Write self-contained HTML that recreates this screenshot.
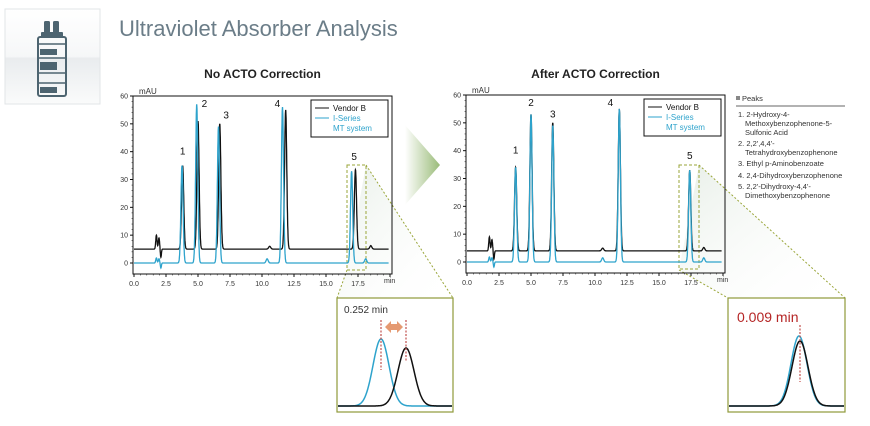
<!DOCTYPE html><html><head><style>
body{margin:0;width:870px;height:421px;background:#fff;overflow:hidden;font-family:"Liberation Sans",sans-serif}
</style></head><body>
<svg id="s" width="870" height="421" xmlns="http://www.w3.org/2000/svg" font-family="Liberation Sans, sans-serif">
<defs>
<linearGradient id="ib" x1="0" y1="0" x2="0" y2="1"><stop offset="0" stop-color="#fff"/><stop offset="0.5" stop-color="#f6f7f8"/><stop offset="0.52" stop-color="#e9ecee"/><stop offset="1" stop-color="#fafbfb"/></linearGradient>
<linearGradient id="ar" x1="0" y1="0" x2="1" y2="0"><stop offset="0" stop-color="#fff"/><stop offset="1" stop-color="#8fb46a"/></linearGradient>
<linearGradient id="fz" x1="0" y1="0" x2="1" y2="1"><stop offset="0" stop-color="#e8efe8"/><stop offset="1" stop-color="#fff" stop-opacity="0"/></linearGradient>
</defs>
<rect x="5" y="9" width="95" height="95" fill="url(#ib)" stroke="#e2e5e7"/>
<g fill="#4d6470">
<rect x="44" y="21" width="6" height="12" rx="1.5"/><rect x="53" y="21" width="6" height="12" rx="1.5"/>
<rect x="41" y="32" width="22" height="5" rx="1"/>
<rect x="38" y="37" width="28" height="59" rx="2" fill="none" stroke="#4d6470" stroke-width="2"/>
<rect x="40" y="49" width="17" height="6"/><rect x="40" y="62" width="17" height="8"/><rect x="40" y="87" width="17" height="6"/>
</g>
<line x1="38" y1="44" x2="66" y2="44" stroke="#4d6470" stroke-width="1.5"/>
<line x1="38" y1="58" x2="66" y2="58" stroke="#4d6470" stroke-width="1.5"/>
<line x1="38" y1="73" x2="66" y2="73" stroke="#4d6470" stroke-width="1.5"/>
<line x1="38" y1="83" x2="66" y2="83" stroke="#4d6470" stroke-width="1.5"/>
<text x="119" y="36" font-size="22" fill="#6b7d88">Ultraviolet Absorber Analysis</text>
<polygon points="405,125 440,165 405,205" fill="url(#ar)" opacity="0.9"/>
<polygon points="366,165 453,298 337,298 347,270" fill="url(#fz)"/>
<polygon points="699,165 845,298 728,298 679,270" fill="url(#fz)"/>
<g stroke="#9aa63a" stroke-dasharray="2,2" stroke-width="1" fill="none">
<line x1="366" y1="165" x2="453" y2="298"/><line x1="347" y1="270" x2="337" y2="298"/>
<line x1="699" y1="165" x2="845" y2="298"/><line x1="679" y1="270" x2="728" y2="298"/>
<rect x="347" y="165" width="19" height="105" stroke-dasharray="3,2"/>
<rect x="679" y="165" width="20" height="104" stroke-dasharray="3,2"/>
</g>
<g id="c1"></g><g id="c2"></g>
<rect x="337" y="298" width="116" height="114" fill="#fff" stroke="#8f9a3a" stroke-width="1.2"/>
<rect x="728" y="298" width="117" height="114" fill="#fff" stroke="#8f9a3a" stroke-width="1.2"/>
<g id="z"></g>
<text x="344" y="313" font-size="10" fill="#333">0.252 min</text>
<text x="737" y="322" font-size="14" fill="#b52525">0.009 min</text>
<g font-size="7.5" fill="#333">
<rect x="736" y="96" width="4" height="4" fill="#888"/><text x="742" y="101" font-size="7.5">Peaks</text>
<line x1="736" y1="106" x2="845" y2="106" stroke="#333" stroke-width="0.8"/>
<text x="738" y="117">1. 2-Hydroxy-4-</text><text x="745" y="126">Methoxybenzophenone-5-</text><text x="745" y="135">Sulfonic Acid</text>
<text x="738" y="146">2. 2,2',4,4'-</text><text x="745" y="155">Tetrahydroxybenzophenone</text>
<text x="738" y="166">3. Ethyl p-Aminobenzoate</text>
<text x="738" y="178">4. 2,4-Dihydroxybenzophenone</text>
<text x="738" y="189">5. 2,2'-Dihydroxy-4,4'-</text><text x="745" y="198">Dimethoxybenzophenone</text>
</g>
</svg>
<script>
const NS="http://www.w3.org/2000/svg";
function el(p,t,a,txt){const e=document.createElementNS(NS,t);for(const k in a)e.setAttribute(k,a[k]);if(txt!==undefined)e.textContent=txt;p.appendChild(e);return e;}
function chart(g,X0,Y0,title,blk,blu,bb,labels){
 const X1=X0+259,Ytop=Y0-167,Ybot=Y0+11,sx=12.8,sy=167/60;
 const px=t=>X0+1+t*sx, py=v=>Y0-v*sy;
 el(g,"text",{x:(X0+X1)/2,y:78,"font-size":12,"font-weight":"bold","text-anchor":"middle",fill:"#222"},title);
 el(g,"text",{x:X0+6,y:Ytop-2,"font-size":8,fill:"#333"},"mAU");
 el(g,"rect",{x:X0,y:Ytop,width:259,height:Ybot-Ytop,fill:"none",stroke:"#111","stroke-width":1});
 for(let v=0;v<=60;v+=10){el(g,"line",{x1:X0-3,x2:X0,y1:py(v),y2:py(v),stroke:"#111"});el(g,"text",{x:X0-5,y:py(v)+2.5,"font-size":7,"text-anchor":"end",fill:"#333"},v);}
 for(let v=0;v<=60;v+=2)el(g,"line",{x1:X0-1.5,x2:X0,y1:py(v),y2:py(v),stroke:"#111","stroke-width":0.5});
 for(let t=0;t<=20;t+=0.5){const M=Math.abs(t/2.5-Math.round(t/2.5))<1e-6;el(g,"line",{x1:px(t),x2:px(t),y1:Ybot,y2:Ybot+(M?3:1.5),stroke:"#111","stroke-width":M?1:0.5});}
 for(let t=0;t<=17.5;t+=2.5)el(g,"text",{x:px(t),y:Ybot+12,"font-size":7,"text-anchor":"middle",fill:"#333"},t.toFixed(1));
 el(g,"text",{x:X1-8,y:Ybot+9,"font-size":7,fill:"#333"},"min");
 function path(peaks,base,col){let d="";for(let t=0;t<=19.9;t+=0.01){let v=base;for(const p of peaks){const s=p[2]||0.085;v+=p[1]*Math.exp(-((t-p[0])**2)/(2*s*s));}d+=(d?"L":"M")+px(t).toFixed(1)+","+py(v).toFixed(1);}el(g,"path",{d:d,fill:"none",stroke:col,"stroke-width":1.3});}
 path(blk,bb,"#111");path(blu,0,"#2ea3cc");
 for(const l of labels)el(g,"text",{x:px(l[0]),y:py(l[1]),"font-size":10,"text-anchor":"middle",fill:"#111"},l[2]);
 const L=X1-81;el(g,"rect",{x:L,y:Ytop+4,width:77,height:37,fill:"#fff",stroke:"#111","stroke-width":1});
 el(g,"line",{x1:L+4,x2:L+18,y1:Ytop+12,y2:Ytop+12,stroke:"#111"});el(g,"line",{x1:L+4,x2:L+18,y1:Ytop+22,y2:Ytop+22,stroke:"#2ea3cc"});
 el(g,"text",{x:L+22,y:Ytop+15,"font-size":8,fill:"#111"},"Vendor B");el(g,"text",{x:L+22,y:Ytop+25,"font-size":8,fill:"#2ea3cc"},"I-Series");el(g,"text",{x:L+22,y:Ytop+35,"font-size":8,fill:"#2ea3cc"},"MT system");
}
chart(document.getElementById("c1"),133,263,"No ACTO Correction",
 [[1.75,5,0.05],[1.95,4,0.05],[2.1,-3,0.04],[3.8,30],[5.0,46],[6.7,45],[10.6,1,0.08],[11.85,50],[17.3,28.5],[18.5,1.2,0.08]],
 [[1.75,1.8,0.05],[1.95,1.5,0.05],[2.1,-1.8,0.04],[3.75,35],[4.9,57],[6.6,49],[10.4,1.5,0.08],[11.6,56],[17.0,33],[18.1,1.5,0.08]],5,
 [[3.8,39,"1"],[5.5,56,"2"],[7.2,52,"3"],[11.2,56,"4"],[17.2,37,"5"]]);
chart(document.getElementById("c2"),466,262,"After ACTO Correction",
 [[1.75,5,0.05],[1.95,4,0.05],[2.1,-3,0.04],[3.8,30],[5.0,49],[6.7,46],[10.6,1,0.08],[11.9,51],[17.4,29],[18.5,1.2,0.08]],
 [[1.75,1.8,0.05],[1.95,1.5,0.05],[2.1,-1.8,0.04],[3.8,34],[5.0,53],[6.7,49],[10.6,1.5,0.08],[11.9,55],[17.4,33],[18.5,1.5,0.08]],4,
 [[3.8,39,"1"],[5.0,56,"2"],[6.7,52,"3"],[11.2,56,"4"],[17.4,37,"5"]]);
const z=document.getElementById("z");
function zp(x0,x1,c,s,h,col){let d="";for(let x=x0;x<=x1;x+=0.5){const v=h*Math.exp(-((x-c)**2)/(2*s*s));d+=(d?"L":"M")+x+","+(406-v).toFixed(1);}el(z,"path",{d:d,fill:"none",stroke:col,"stroke-width":1.5});}
zp(338,452,381,8,67,"#2ea3cc");zp(338,452,406,8,58,"#111");
zp(729,844,799,8,70,"#2ea3cc");zp(729,844,800,8,65,"#111");
const dl=(x,y1,y2)=>el(z,"line",{x1:x,x2:x,y1:y1,y2:y2,stroke:"#c0504d","stroke-width":1.2,"stroke-dasharray":"2,1.5"});
dl(381,320,370);dl(406,320,362);dl(800,325,382);
el(z,"polygon",{points:"385,327 391,321 391,324 397,324 397,321 403,327 397,333 397,330 391,330 391,333",fill:"#e59a72"});
</script>
</body></html>
